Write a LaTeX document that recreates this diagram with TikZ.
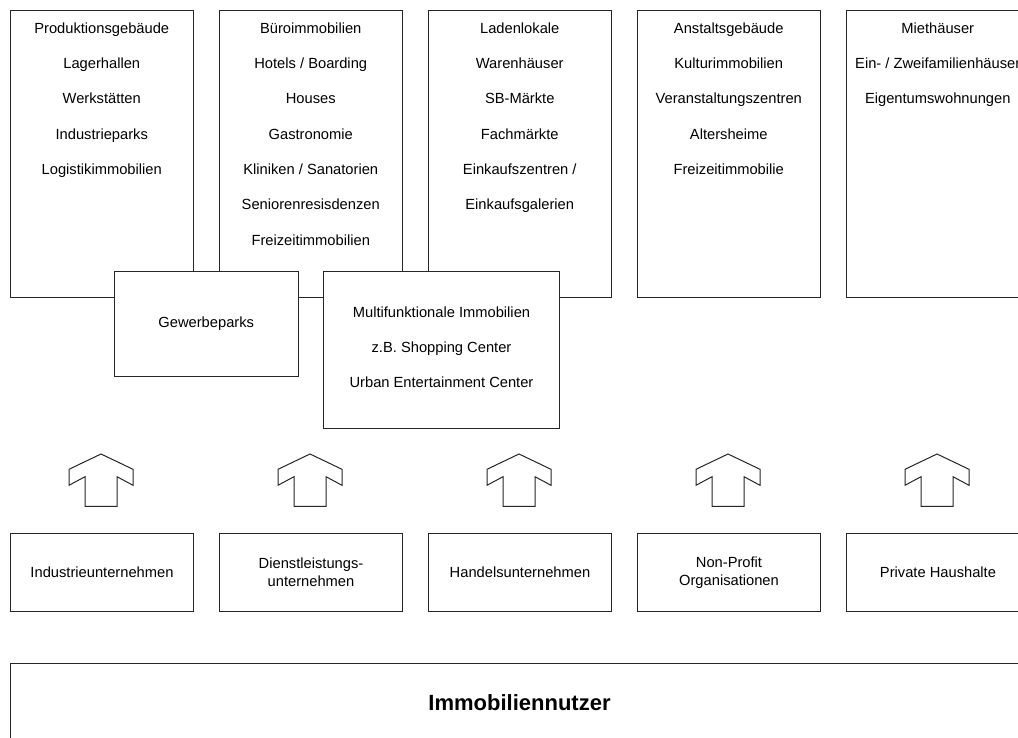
\documentclass[tikz,border=0pt]{standalone}
\usepackage{fontspec}
\setmainfont{Liberation Sans}
\begin{document}
\begin{tikzpicture}[x=1pt,y=-1pt,
  box/.style={draw=black!85, line width=1pt, fill=white, rectangle, inner sep=0pt, anchor=north west},
  topbox/.style={box, minimum width=182.5pt, minimum height=287pt},
  itm/.style={font=\fontsize{14.7}{17.7}\selectfont, inner sep=0pt, text height=10.6pt, text depth=3.1pt},
  lowbox/.style={box, minimum width=183pt, minimum height=78.3pt, align=center, font=\fontsize{14.7}{17.7}\selectfont},
  blockarr/.style={draw=black!85, line width=1pt, line join=miter, fill=white}
]
\useasboundingbox (0,0) rectangle (1018,738);
\clip (0,0) rectangle (1018,738);

% top boxes
\node[topbox] (u1) at (10,10) {};
\node[topbox] (u2) at (219,10) {};
\node[topbox] (u3) at (428,10) {};
\node[topbox] (u4) at (637,10) {};
\node[topbox] (u5) at (846,10) {};

\foreach \t [count=\i] in {Produktionsgebäude, Lagerhallen, Werkstätten, Industrieparks, Logistikimmobilien}
  \path (u1.north) ++(0,{19.3+35.33*(\i-1)}) node[itm] (u1-\i) {\t};
\foreach \t [count=\i] in {Büroimmobilien, Hotels / Boarding, Houses, Gastronomie, Kliniken / Sanatorien, Seniorenresisdenzen, Freizeitimmobilien}
  \path (u2.north) ++(0,{19.3+35.33*(\i-1)}) node[itm] (u2-\i) {\t};
\foreach \t [count=\i] in {Ladenlokale, Warenhäuser, SB-Märkte, Fachmärkte, Einkaufszentren /, Einkaufsgalerien}
  \path (u3.north) ++(0,{19.3+35.33*(\i-1)}) node[itm] (u3-\i) {\t};
\foreach \t [count=\i] in {Anstaltsgebäude, Kulturimmobilien, Veranstaltungszentren, Altersheime, Freizeitimmobilie}
  \path (u4.north) ++(0,{19.3+35.33*(\i-1)}) node[itm] (u4-\i) {\t};
\foreach \t [count=\i] in {Miethäuser, Ein- / Zweifamilienhäuser, Eigentumswohnungen}
  \path (u5.north) ++(0,{19.3+35.33*(\i-1)}) node[itm] (u5-\i) {\t};

% overlapping boxes
\node[box, minimum width=183.5pt, minimum height=104.7pt] (g) at (114,271) {};
\node[itm] (g-1) at (g.center) {Gewerbeparks};
\node[box, minimum width=236pt, minimum height=157pt] (m) at (323,271) {};
\foreach \t [count=\i] in {Multifunktionale Immobilien, z.B. Shopping Center, Urban Entertainment Center}
  \path (m.north) ++(0,{42.3+35.33*(\i-1)}) node[itm] (m-\i) {\t};

% user groups
\node[lowbox] (l1) at (10,532.7) {Industrieunternehmen};
\node[lowbox] (l2) at (219,532.7) {Dienstleistungs-\\unternehmen};
\node[lowbox] (l3) at (428,532.7) {Handelsunternehmen};
\node[lowbox] (l4) at (637,532.7) {Non-Profit\\Organisationen};
\node[lowbox] (l5) at (846,532.7) {Private Haushalte};

% block arrows
\foreach \i in {1,...,5}{
  \begin{scope}[shift={(l\i.north)}, xshift=-1pt]
    \draw[blockarr] (0,-78.7) -- (32,-63.4) -- (32,-47.4) -- (16,-56) -- (16,-26.4)
      -- (-16,-26.4) -- (-16,-56) -- (-32,-47.4) -- (-32,-63.4) -- cycle;
  \end{scope}
}

% Immobiliennutzer
\node[box, minimum width=1018pt, minimum height=78pt, font=\bfseries\fontsize{22}{26}\selectfont] (n) at (10,663) {Immobiliennutzer};
\end{tikzpicture}
\end{document}
